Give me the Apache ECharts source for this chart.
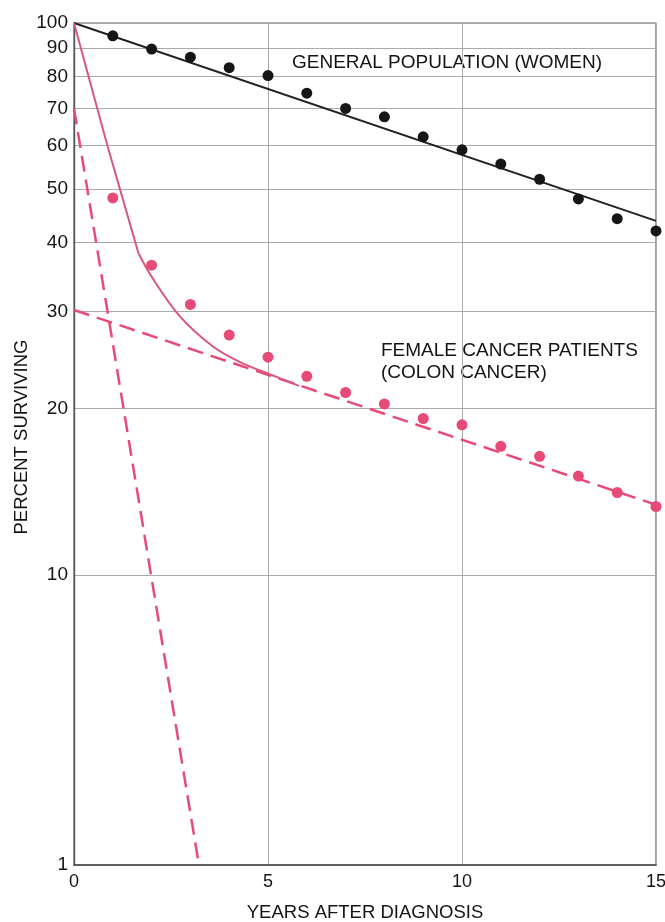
<!DOCTYPE html>
<html>
<head>
<meta charset="utf-8">
<script src="https://cdn.jsdelivr.net/npm/echarts@6/dist/echarts.min.js"></script>
<style>
html,body{margin:0;padding:0;background:#fff;}
#c{width:665px;height:922px;}
</style>
</head>
<body>
<div id="c"></div>
<script>
// ---- data ----
const years = [1,2,3,4,5,6,7,8,9,10,11,12,13,14,15];
const generalPop = [94.8, 89.7, 86.7, 83.0, 80.3, 74.6, 70.0, 67.6, 62.2, 58.9, 55.5, 52.1, 48.0, 44.2, 42.0];
const cancerPatients = [48.2, 36.4, 30.9, 27.2, 24.8, 22.9, 21.4, 20.4, 19.2, 18.7, 17.1, 16.4, 15.1, 14.1, 13.3];

const generalFitX = [0, 15];
const generalFitY = [100, 43.8];
const slowFitX = [0, 15];
const slowFitY = [30.2, 13.4];
const fastFitX = [0, 3.22];
const fastFitY = [70, 2.98];

const curveStraightX = [0, 0.86, 1.66];
const curveStraightY = [100, 60, 38.3];
const curveBendX = [1.66, 2.0, 2.73, 3.59, 4.28, 5.11, 5.8];
const curveBendY = [38.3, 34.7, 29.4, 25.9, 24.3, 23.0, 22.0];

const yTicks = [2.98, 10, 20, 30, 40, 50, 60, 70, 80, 90, 100];
const yTickLabels = ['1', '10', '20', '30', '40', '50', '60', '70', '80', '90', '100'];
const xTicks = [0, 5, 10, 15];

const xTitle = 'YEARS AFTER DIAGNOSIS';
const yTitle = 'PERCENT SURVIVING';
const labelGeneral = 'GENERAL POPULATION (WOMEN)';
const labelCancer = 'FEMALE CANCER PATIENTS\n(COLON CANCER)';

// ---- build ----
const zip = (xs, ys) => xs.map((x, i) => [x, ys[i]]);
const FONT = "'Liberation Sans', Arial, Helvetica, sans-serif";
const PINK = '#e84a78';
const TXT = '#141414';

const chart = echarts.init(document.getElementById('c'), null, {renderer: 'canvas'});
chart.setOption({
  backgroundColor: '#fff',
  animation: false,
  textStyle: {fontFamily: FONT},
  grid: {left: 74, right: 9, top: 23, bottom: 57, containLabel: false, outerBoundsMode: 'none',
    show: true, borderColor: '#666', borderWidth: 1.2, backgroundColor: 'transparent'},
  xAxis: {
    type: 'value', min: 0, max: 15, interval: 5,
    name: xTitle, nameLocation: 'middle', nameGap: 38, nameMoveOverlap: false,
    nameTextStyle: {fontSize: 18.5, color: TXT, fontFamily: FONT},
    axisLine: {show: true, lineStyle: {color: '#444', width: 1.6}},
    axisTick: {show: false},
    axisLabel: {fontSize: 18, color: TXT, fontFamily: FONT, margin: 8,
      customValues: xTicks, showMinLabel: true, showMaxLabel: true},
    splitLine: {show: true, lineStyle: {color: '#aaa', width: 1}}
  },
  yAxis: {
    type: 'log', logBase: 10, min: 2.98, max: 100,
    name: yTitle, nameLocation: 'middle', nameGap: 43, nameRotate: 90, nameMoveOverlap: false,
    nameTextStyle: {fontSize: 18.5, color: TXT, fontFamily: FONT, padding: [0, 0, 0, 14]},
    axisLine: {show: true, lineStyle: {color: '#555', width: 1.4}},
    axisTick: {show: false, customValues: yTicks},
    axisLabel: {fontSize: 19, color: TXT, fontFamily: FONT, margin: 6,
      customValues: yTicks, showMinLabel: true, showMaxLabel: true,
      formatter: v => { let best = 0; yTicks.forEach((t, i) => { if (Math.abs(t - v) < Math.abs(yTicks[best] - v)) best = i; }); return yTickLabels[best]; }},
    splitLine: {show: true, lineStyle: {color: '#aaa', width: 1}}
  },
  series: [
    {type: 'line', data: zip(generalFitX, generalFitY), symbol: 'none', lineStyle: {color: '#222', width: 2}, z: 3},
    {type: 'line', data: zip(slowFitX, slowFitY), symbol: 'none', lineStyle: {color: PINK, width: 2.5, type: [16, 8]}, z: 3},
    {type: 'line', data: zip(fastFitX, fastFitY), symbol: 'none', lineStyle: {color: PINK, width: 2.5, type: [16, 8]}, z: 3},
    {type: 'line', data: zip(curveStraightX, curveStraightY), symbol: 'none', lineStyle: {color: '#d8577f', width: 2}, z: 3},
    {type: 'line', data: zip(curveBendX, curveBendY), symbol: 'none', smooth: 0.35, lineStyle: {color: '#d8577f', width: 2}, z: 3},
    {type: 'scatter', data: zip(years, generalPop), symbol: 'circle', symbolSize: 11, itemStyle: {color: '#161616', opacity: 1}, z: 4},
    {type: 'scatter', data: zip(years, cancerPatients), symbol: 'circle', symbolSize: 11, itemStyle: {color: PINK, opacity: 1}, z: 4}
  ],
  graphic: [
    {type: 'text', left: 292, top: 53, style: {text: labelGeneral, fill: TXT, font: '19px ' + FONT}},
    {type: 'text', left: 381, top: 340, style: {text: labelCancer, fill: TXT, font: '19px ' + FONT, lineHeight: 22}}
  ]
});
</script>
</body>
</html>
